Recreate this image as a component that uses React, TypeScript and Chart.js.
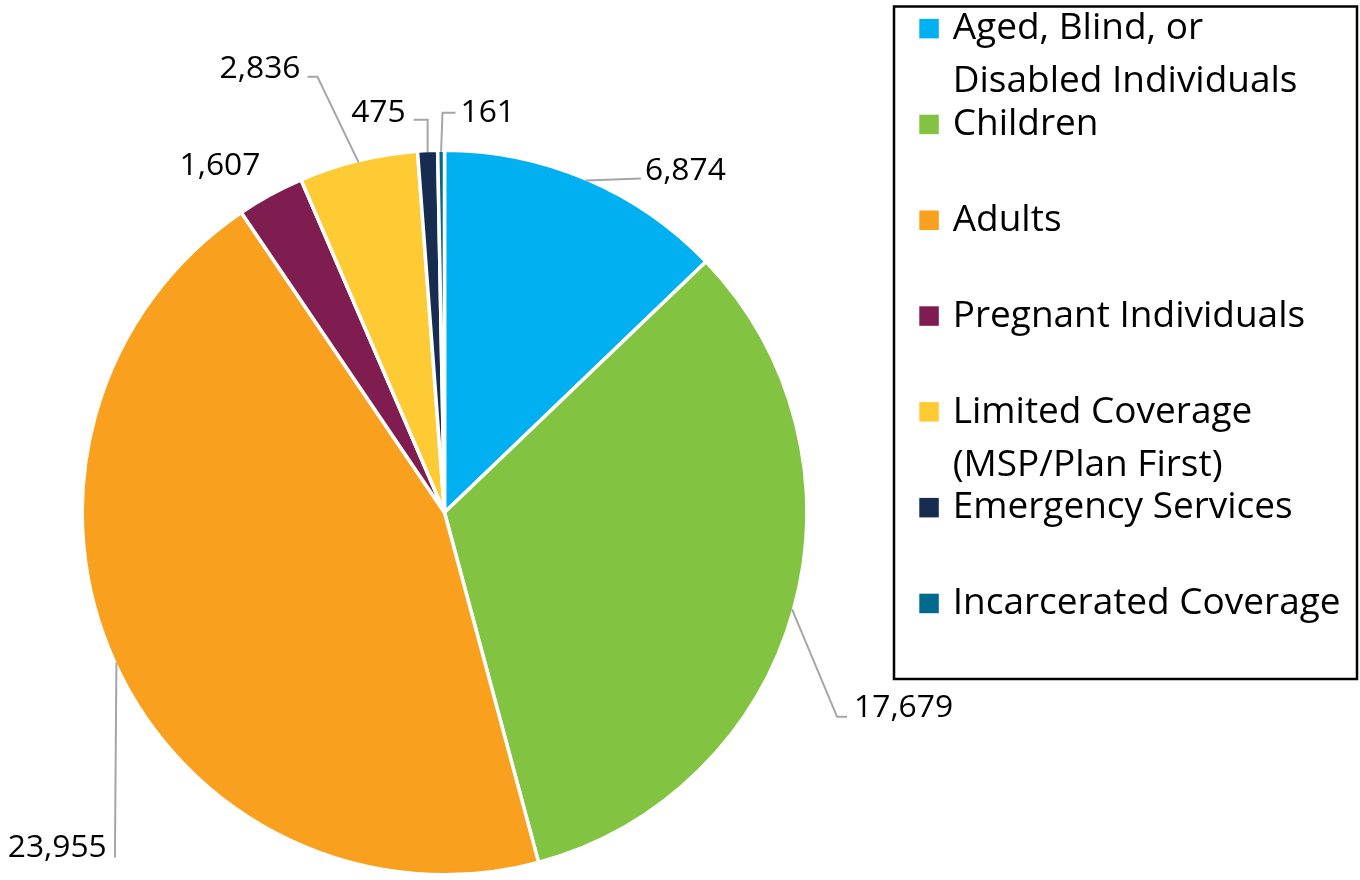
import React, { useEffect, useRef } from "react";
import { Chart, registerables } from "chart.js";

Chart.register(...registerables);

const categories = [
  "Aged, Blind, or Disabled Individuals",
  "Children",
  "Adults",
  "Pregnant Individuals",
  "Limited Coverage (MSP/Plan First)",
  "Emergency Services",
  "Incarcerated Coverage",
];
const legendLines = [
  ["Aged, Blind, or", "Disabled Individuals"],
  ["Children"],
  ["Adults"],
  ["Pregnant Individuals"],
  ["Limited Coverage", "(MSP/Plan First)"],
  ["Emergency Services"],
  ["Incarcerated Coverage"],
];
const enrollment = [6874, 17679, 23955, 1607, 2836, 475, 161];
const sliceColors = ["#00B0F0", "#82C341", "#F9A11E", "#7F1C50", "#FFCB34", "#162C51", "#016A8F"];

// label layout relative to the slice's outer mid-point: leader points, text offset, align
type LabelLayout = {
  pts: [number, number][];
  tx: number;
  ty: number;
  align: CanvasTextAlign;
};
const labelLayout: LabelLayout[] = [
  { pts: [[55, -2]], tx: 59, ty: -1, align: "left" },
  { pts: [[45, 107.5], [55, 107.5]], tx: 62, ty: 107.5, align: "left" },
  { pts: [[-1.5, 195]], tx: -9.7, ty: 194.7, align: "right" },
  { pts: [], tx: -10.7, ty: -21.3, align: "right" },
  { pts: [[-41, -85.4], [-51, -85.4]], tx: -58, ty: -84.4, align: "right" },
  { pts: [[0, -32.4], [-14, -32.4]], tx: -22, ty: -30.4, align: "right" },
  { pts: [[1.4, -39], [14.4, -39]], tx: 19.4, ty: -30, align: "left" },
];

const FONT_FAMILY = "'Open Sans', 'Noto Sans', sans-serif";

function fitFont(ctx: CanvasRenderingContext2D, sample: string, target: number) {
  ctx.font = `100px ${FONT_FAMILY}`;
  const w = ctx.measureText(sample).width;
  return (100 * target) / w;
}

const labelsPlugin = {
  id: "customLabels",
  afterDatasetsDraw(chart: any) {
    const ctx: CanvasRenderingContext2D = chart.ctx;
    const meta = chart.getDatasetMeta(0);
    const numSize = fitFont(ctx, "17,679", 99);
    ctx.save();
    meta.data.forEach((arc: any, i: number) => {
      const { x, y, startAngle, endAngle, outerRadius } = arc.getProps(
        ["x", "y", "startAngle", "endAngle", "outerRadius"],
        true
      );
      const mid = (startAngle + endAngle) / 2;
      const r = outerRadius - 1.5;
      const ax = x + Math.cos(mid) * r;
      const ay = y + Math.sin(mid) * r;
      const lay = labelLayout[i];
      if (lay.pts.length) {
        ctx.beginPath();
        ctx.moveTo(ax, ay);
        lay.pts.forEach(([dx, dy]) => ctx.lineTo(ax + dx, ay + dy));
        ctx.strokeStyle = "#A6A6A6";
        ctx.lineWidth = 2;
        ctx.lineJoin = "miter";
        ctx.stroke();
      }
      ctx.font = `${numSize}px ${FONT_FAMILY}`;
      ctx.fillStyle = "#000000";
      ctx.textAlign = lay.align;
      ctx.textBaseline = "alphabetic";
      ctx.fillText(enrollment[i].toLocaleString("en-US"), ax + lay.tx, ay + lay.ty);
    });

    // legend
    const legX = 894;
    const legY = 6.5;
    const legW = 463;
    const legH = 672.5;
    ctx.strokeStyle = "#000000";
    ctx.lineWidth = 2.5;
    ctx.strokeRect(legX, legY, legW, legH);
    const legSize = fitFont(ctx, "Incarcerated Coverage", 388);
    ctx.font = `${legSize}px ${FONT_FAMILY}`;
    ctx.textAlign = "left";
    const firstBaseline = 39.3;
    const itemStep = 95.8;
    const lineStep = 53;
    legendLines.forEach((lines, i) => {
      const base = firstBaseline + i * itemStep;
      ctx.fillStyle = sliceColors[i];
      ctx.fillRect(919.3, base - 20.4, 19.5, 19.5);
      ctx.fillStyle = "#000000";
      lines.forEach((t, j) => ctx.fillText(t, 952.7, base + j * lineStep));
    });
    ctx.restore();
  },
};

export default function App() {
  const ref = useRef<HTMLCanvasElement | null>(null);
  useEffect(() => {
    document.body.style.margin = "0";
    if (!ref.current) return;
    const chart = new Chart(ref.current, {
      type: "pie",
      data: {
        labels: categories,
        datasets: [
          {
            data: enrollment,
            backgroundColor: sliceColors,
            borderColor: "#FFFFFF",
            borderWidth: 3.5,
            hoverBorderWidth: 3.5,
            radius: 362.3,
          } as any,
        ],
      },
      options: {
        responsive: false,
        animation: false,
        devicePixelRatio: 1,
        events: [],
        layout: { padding: { left: 84, right: 555, top: 152, bottom: 7 } },
        plugins: {
          legend: { display: false },
          tooltip: { enabled: false },
          title: { display: false },
        },
      },
      plugins: [labelsPlugin],
    });
    return () => chart.destroy();
  }, []);
  return (
    <div style={{ width: 1360, height: 880, background: "#FFFFFF" }}>
      <canvas ref={ref} width={1360} height={880} style={{ display: "block" }} />
    </div>
  );
}
